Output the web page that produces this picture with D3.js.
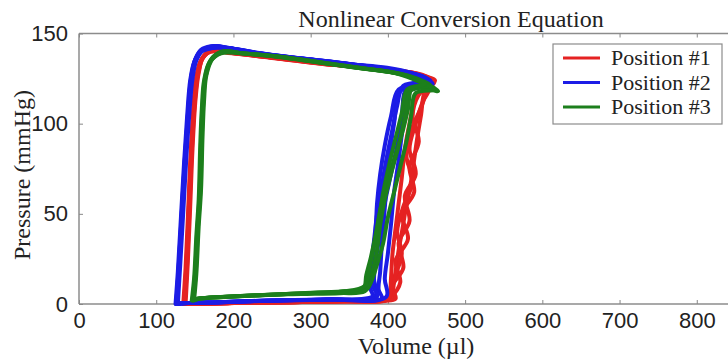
<!DOCTYPE html>
<html>
<head>
<meta charset="utf-8">
<script src="https://cdn.jsdelivr.net/npm/d3@7"></script>
<style>
  body { margin: 0; background: #fff; }
  .tick text { font-family: "Liberation Sans", Arial, sans-serif; font-size: 22px; fill: #222; }
  .tick line { stroke: #888; }
</style>
</head>
<body>
<div id="chart"></div>
<script>
// tick values
var xTicks = [0, 100, 200, 300, 400, 500, 600, 700, 800];
var yTicks = [0, 50, 100, 150];

var seriesNames = ["Position #1", "Position #2", "Position #3"];
var seriesColors = ["#e52222", "#1c1ce6", "#1c7f1c"];

// Position #1 (red) loops, [volume, pressure]
var redLoops = [
  [[136,0],[139,20],[142,50],[145,80],[149,110],[152,125],[158,135],[170,140],[200,139],[260,136],[320,133],[380,131],[420,129],[445,127],[460,123],
   [448,118],[443,105],[438,92],[434,80],[430,68],[424,55],[419,42],[414,30],[410,18],[407,8],[408,3],[400,2],[350,1.5],[280,1],[200,0.5],[150,0],[136,0]],
  [[137,0],[140,22],[143,52],[146,84],[150,112],[154,127],[160,136],[172,141],[205,139],[265,136],[325,133],[385,130],[425,128],[448,126],[458,124],
   [440,116],[432,104],[440,90],[428,76],[434,62],[418,50],[426,36],[410,24],[416,12],[404,4],[395,2],[340,1.5],[270,1],[190,0.5],[148,0],[137,0]],
  [[135,0],[138,20],[141,48],[144,78],[148,108],[151,124],[157,134],[168,140],[198,139],[258,136],[318,133],[378,131],[418,129],[442,127],[456,122],
   [445,112],[436,100],[428,86],[436,72],[422,60],[428,46],[414,34],[420,20],[406,10],[410,3],[402,2],[352,1.5],[282,1],[202,0.5],[150,0],[135,0]],
  [[138,0],[141,24],[144,54],[147,86],[151,114],[155,128],[161,137],[174,141],[208,139],[268,136],[328,133],[388,130],[428,128],[450,126],[461,124],
   [452,120],[444,110],[430,96],[424,82],[432,68],[420,54],[412,40],[418,28],[408,14],[402,5],[396,2],[345,1.5],[275,1],[195,0.5],[150,0],[138,0]],
  [[136,0],[139,21],[142,51],[145,82],[149,111],[153,126],[159,136],[171,140],[202,139],[262,136],[322,133],[382,131],[422,129],[440,127],[452,122],
   [436,114],[428,100],[422,86],[418,70],[414,56],[410,42],[406,28],[404,14],[402,4],[398,2],[348,1.5],[278,1],[198,0.5],[150,0],[136,0]]
];

// Position #2 (blue) loops
var blueLoops = [
  [[126,0],[129,20],[133,50],[137,80],[141,105],[145,125],[150,135],[158,141],[172,143],[192,142],[232,139],[290,136],[350,133],[400,130],[430,128],[455,124],
   [420,121],[412,110],[405,95],[398,80],[392,65],[386,50],[382,35],[378,20],[376,10],[380,4],[320,2.5],[250,2],[180,1],[140,0.5],[126,0]],
  [[127,0],[130,22],[134,52],[138,82],[142,107],[146,126],[151,136],[160,141],[174,143],[194,142],[234,139],[292,136],[352,133],[402,130],[428,127],[440,123],
   [416,118],[408,100],[402,82],[398,64],[395,48],[392,32],[390,18],[388,8],[392,3],[325,2.5],[255,2],[185,1],[142,0.5],[127,0]],
  [[125,0],[128,18],[132,48],[136,78],[140,104],[144,124],[149,134],[157,140],[171,142],[191,142],[231,139],[289,136],[349,133],[399,131],[432,128],[450,125],
   [424,120],[418,104],[412,88],[404,72],[396,56],[390,40],[385,26],[382,14],[384,5],[318,2.5],[248,2],[178,1],[139,0.5],[125,0]],
  [[128,0],[131,21],[135,51],[139,81],[143,106],[147,125],[152,135],[161,141],[175,143],[195,142],[235,139],[293,136],[353,133],[403,130],[430,127],[445,122],
   [414,119],[404,104],[396,88],[390,72],[386,56],[384,40],[380,26],[378,12],[386,4],[322,2.5],[252,2],[182,1],[141,0.5],[128,0]],
  [[126,0],[129,19],[133,49],[137,79],[141,104],[145,124],[150,134],[159,140],[173,142],[193,142],[233,139],[291,136],[351,133],[401,130],[434,127],[458,122],
   [428,118],[420,100],[414,80],[408,62],[404,44],[400,28],[396,14],[398,4],[330,2.5],[258,2],[186,1],[143,0.5],[126,0]]
];

// Position #3 (green) loops
var greenLoops = [
  [[147,2],[150,15],[153,40],[156,60],[158,90],[160,110],[163,125],[170,135],[185,140],[210,139],[260,137],[310,134],[360,131],[410,128],[440,124],[465,118],
   [432,120],[426,108],[418,94],[408,80],[398,66],[390,52],[384,38],[378,26],[372,16],[368,8],[340,7],[290,6],[240,5],[190,4],[155,3],[147,2]],
  [[148,2],[151,16],[154,42],[157,62],[159,92],[161,112],[164,126],[172,136],[187,140],[212,139],[262,137],[312,134],[362,131],[412,128],[438,125],[455,121],
   [428,118],[422,104],[414,88],[404,72],[396,58],[390,44],[386,30],[380,18],[374,9],[345,7],[295,6],[245,5],[195,4],[157,3],[148,2]],
  [[146,2],[149,14],[152,38],[155,58],[157,88],[159,108],[162,124],[169,134],[184,139],[209,139],[259,137],[309,134],[359,131],[409,128],[442,123],[460,119],
   [436,117],[430,104],[424,90],[416,76],[408,62],[400,48],[394,34],[386,22],[378,12],[370,7],[338,6],[288,5.5],[238,5],[188,4],[154,3],[146,2]],
  [[149,2],[152,17],[155,43],[158,63],[160,93],[162,113],[165,127],[173,136],[188,140],[213,139],[263,137],[313,134],[363,131],[413,128],[436,125],[448,122],
   [425,119],[418,106],[410,92],[402,78],[394,62],[388,46],[382,32],[376,20],[370,10],[342,7],[292,6],[242,5],[192,4],[156,3],[149,2]]
];

var allSeries = [redLoops, blueLoops, greenLoops];

var svgWidth = 728;
var svgHeight = 363;

var svg = d3.select("#chart")
  .append("svg")
  .attr("width", svgWidth)
  .attr("height", svgHeight)
  .style("display", "block");

var x = d3.scaleLinear()
  .domain([0, 900])
  .range([79, 774]);

var y = d3.scaleLinear()
  .domain([0, 150])
  .range([304, 33.5]);

// axes frame (the right side of the figure is cut off)
var frame = svg.append("g")
  .attr("stroke", "#8c8c8c")
  .attr("stroke-width", 1.5)
  .attr("fill", "none");
frame.append("line").attr("x1", x(0)).attr("x2", svgWidth).attr("y1", y(150)).attr("y2", y(150));
frame.append("line").attr("x1", x(0)).attr("x2", svgWidth).attr("y1", y(0)).attr("y2", y(0));
frame.append("line").attr("x1", x(0)).attr("x2", x(0)).attr("y1", y(150)).attr("y2", y(0));

// bottom axis, inward ticks
svg.append("g")
  .attr("transform", `translate(0, ${y(0)})`)
  .call(d3.axisBottom(x).tickValues(xTicks).tickSize(-4).tickPadding(8))
  .call(g => g.select(".domain").remove());

// top ticks
svg.append("g")
  .attr("transform", `translate(0, ${y(150)})`)
  .call(d3.axisTop(x).tickValues(xTicks).tickSize(-4).tickFormat(""))
  .call(g => g.select(".domain").remove());

// left axis
svg.append("g")
  .attr("transform", `translate(${x(0)}, 0)`)
  .call(d3.axisLeft(y).tickValues(yTicks).tickSize(-4).tickPadding(11))
  .call(g => g.select(".domain").remove());

// loops
var line = d3.line()
  .x(d => x(d[0]))
  .y(d => y(d[1]))
  .curve(d3.curveCatmullRom.alpha(0.5));

allSeries.forEach(function(loops, i) {
  svg.append("g")
    .selectAll("path")
    .data(loops)
    .enter()
    .append("path")
    .attr("d", line)
    .attr("fill", "none")
    .attr("stroke", seriesColors[i])
    .attr("stroke-width", 4)
    .attr("stroke-linejoin", "round")
    .attr("stroke-linecap", "round");
});

// title and axis labels
svg.append("text")
  .attr("x", 451)
  .attr("y", 27)
  .attr("text-anchor", "middle")
  .style("font-family", "'Liberation Serif', 'Times New Roman', serif")
  .style("font-size", "24px")
  .attr("fill", "#222")
  .text("Nonlinear Conversion Equation");

svg.append("text")
  .attr("x", 416)
  .attr("y", 354)
  .attr("text-anchor", "middle")
  .style("font-family", "'Liberation Serif', 'Times New Roman', serif")
  .style("font-size", "24px")
  .attr("fill", "#222")
  .text("Volume (µl)");

svg.append("text")
  .attr("transform", "translate(30, 175) rotate(-90)")
  .attr("text-anchor", "middle")
  .style("font-family", "'Liberation Serif', 'Times New Roman', serif")
  .style("font-size", "24px")
  .attr("fill", "#222")
  .text("Pressure (mmHg)");

// legend
var legend = svg.append("g");
legend.append("rect")
  .attr("x", 553)
  .attr("y", 44)
  .attr("width", 169)
  .attr("height", 80)
  .attr("fill", "#fff")
  .attr("stroke", "#8c8c8c")
  .attr("stroke-width", 1.2);

var rows = legend.selectAll("g.row")
  .data(seriesNames)
  .enter()
  .append("g")
  .attr("class", "row")
  .attr("transform", (d, i) => `translate(0, ${58 + i * 24.5})`);

rows.append("line")
  .attr("x1", 563)
  .attr("x2", 600)
  .attr("y1", 0)
  .attr("y2", 0)
  .attr("stroke", (d, i) => seriesColors[i])
  .attr("stroke-width", 3);

rows.append("text")
  .attr("x", 611)
  .attr("dy", "0.33em")
  .style("font-family", "'Liberation Serif', 'Times New Roman', serif")
  .style("font-size", "22px")
  .attr("fill", "#222")
  .text(d => d);
</script>
</body>
</html>
